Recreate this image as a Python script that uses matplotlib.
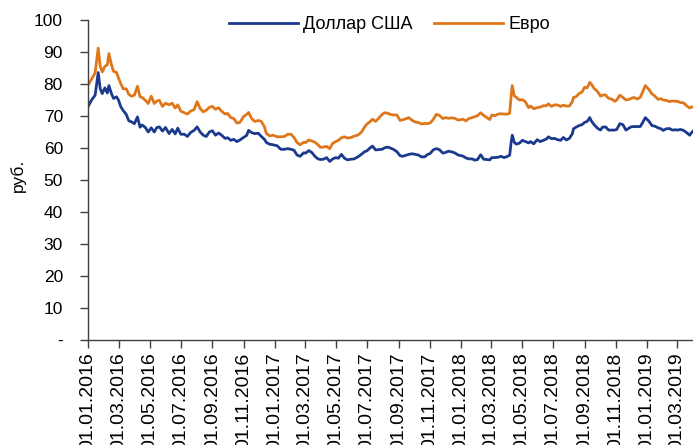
import matplotlib
matplotlib.use("Agg")
import matplotlib.pyplot as plt
import pandas as pd

dates = [
 "2016-01-01","2016-01-08","2016-01-15","2016-01-21","2016-01-25","2016-01-29","2016-02-03","2016-02-08",
 "2016-02-11","2016-02-16","2016-02-20","2016-02-26","2016-03-01","2016-03-05","2016-03-10","2016-03-16",
 "2016-03-21","2016-03-26","2016-04-01","2016-04-07","2016-04-12","2016-04-16","2016-04-22","2016-04-28",
 "2016-05-04","2016-05-10","2016-05-15","2016-05-20","2016-05-26","2016-06-01","2016-06-08","2016-06-14",
 "2016-06-20","2016-06-25","2016-07-01","2016-07-08","2016-07-14","2016-07-20","2016-07-27","2016-08-02",
 "2016-08-08","2016-08-14","2016-08-20","2016-08-26","2016-09-01","2016-09-07","2016-09-13","2016-09-19",
 "2016-09-26","2016-10-01","2016-10-07","2016-10-13","2016-10-19","2016-10-25","2016-11-01","2016-11-07",
 "2016-11-11","2016-11-17","2016-11-23","2016-11-30","2016-12-06","2016-12-12","2016-12-16","2016-12-22",
 "2016-12-29",
 "2017-01-06","2017-01-13","2017-01-20","2017-01-27","2017-02-02","2017-02-08","2017-02-14","2017-02-20",
 "2017-02-27","2017-03-03","2017-03-09","2017-03-15","2017-03-21","2017-03-27","2017-04-01","2017-04-07",
 "2017-04-13","2017-04-19","2017-04-25","2017-05-01","2017-05-06","2017-05-12","2017-05-18","2017-05-24",
 "2017-05-31","2017-06-06","2017-06-14","2017-06-20","2017-06-27","2017-07-01","2017-07-07","2017-07-12",
 "2017-07-18","2017-07-24","2017-07-31","2017-08-04","2017-08-10","2017-08-16","2017-08-23","2017-08-29",
 "2017-09-04","2017-09-09","2017-09-15","2017-09-21","2017-09-28","2017-10-04","2017-10-10","2017-10-16",
 "2017-10-23","2017-10-27","2017-11-02","2017-11-08","2017-11-14","2017-11-20","2017-11-27","2017-12-02",
 "2017-12-08","2017-12-14","2017-12-20","2017-12-27",
 "2018-01-05","2018-01-11","2018-01-17","2018-01-23","2018-01-29","2018-02-03","2018-02-09","2018-02-15",
 "2018-02-21","2018-02-27","2018-03-03","2018-03-09","2018-03-15","2018-03-21","2018-03-27","2018-04-03",
 "2018-04-07","2018-04-10","2018-04-12","2018-04-16","2018-04-20","2018-04-26","2018-05-02","2018-05-08",
 "2018-05-14","2018-05-18","2018-05-24","2018-05-31","2018-06-06","2018-06-12","2018-06-18","2018-06-22",
 "2018-06-28","2018-07-04","2018-07-10","2018-07-16","2018-07-21","2018-07-27","2018-08-02","2018-08-08",
 "2018-08-10","2018-08-15","2018-08-21","2018-08-27","2018-09-01","2018-09-06","2018-09-11","2018-09-14",
 "2018-09-20","2018-09-26","2018-10-02","2018-10-06","2018-10-12","2018-10-18","2018-10-24","2018-10-30",
 "2018-11-03","2018-11-09","2018-11-15","2018-11-21","2018-11-27","2018-12-01","2018-12-07","2018-12-13",
 "2018-12-19","2018-12-24","2018-12-29",
 "2019-01-05","2019-01-11","2019-01-17","2019-01-23","2019-01-29","2019-02-02","2019-02-08","2019-02-14",
 "2019-02-20","2019-02-26","2019-03-02","2019-03-08","2019-03-14","2019-03-20","2019-03-26","2019-03-29",
 "2019-04-01",
]

usd = [
 72.9,75.0,76.5,83.6,78.5,77.0,78.8,77.2,
 79.5,77.0,75.5,76.0,74.9,73.0,71.7,70.5,
 68.5,68.2,67.6,69.7,66.5,67.2,66.5,65.0,
 66.3,65.0,66.4,66.6,65.3,66.4,64.5,65.8,
 64.4,66.2,64.3,64.3,63.6,64.8,65.5,66.6,
 65.0,64.0,63.6,65.0,65.4,64.0,64.7,64.0,
 63.0,63.2,62.4,62.7,62.0,62.5,63.3,63.9,
 65.5,64.8,64.5,64.6,63.6,62.7,61.7,61.2,
 61.0,
 60.7,59.6,59.6,59.8,59.6,59.3,57.8,57.4,
 58.5,58.4,59.2,58.6,57.4,56.6,56.4,56.5,
 57.0,55.8,56.6,57.0,56.8,58.0,56.8,56.3,
 56.5,56.6,57.3,58.0,58.9,59.1,60.0,60.6,
 59.4,59.5,59.6,60.0,60.3,60.0,59.5,58.8,
 57.6,57.4,57.7,58.0,58.2,58.0,57.8,57.2,
 57.3,57.9,58.3,59.4,59.8,59.5,58.4,58.6,
 59.0,58.8,58.5,57.8,
 57.5,56.9,56.6,56.6,56.2,56.4,57.9,56.5,
 56.4,56.3,57.0,57.0,57.1,57.4,57.0,57.4,
 57.8,62.0,64.0,61.8,61.2,61.5,62.4,62.0,
 61.6,62.0,61.3,62.6,62.0,62.4,62.8,63.5,
 62.9,63.0,62.6,62.4,63.3,62.5,63.0,64.5,
 66.0,66.5,67.0,67.3,68.0,68.3,69.5,68.5,
 67.2,66.2,65.6,66.5,66.6,65.6,65.6,65.6,
 65.8,67.6,67.3,65.6,66.2,66.6,66.7,66.7,
 66.7,68.0,69.5,
 68.4,67.0,66.8,66.3,66.0,65.5,66.0,66.1,
 65.6,65.7,65.6,65.8,65.5,64.8,64.0,64.7,
 65.2,
]

eur = [
 79.7,81.5,83.5,91.2,85.5,83.8,85.5,86.0,
 89.5,86.0,84.0,83.6,81.8,80.2,78.5,78.5,
 76.8,76.2,76.5,79.3,76.0,75.8,75.0,73.9,
 76.2,73.9,74.7,74.9,73.0,74.0,73.5,74.0,
 72.5,73.5,71.5,71.0,70.6,71.5,72.0,74.5,
 72.3,71.3,71.8,72.7,73.0,72.1,72.6,71.5,
 70.6,70.8,69.5,69.2,67.8,68.0,69.8,70.5,
 71.1,69.2,68.3,68.6,68.3,66.6,64.5,63.8,
 64.0,
 63.5,63.5,63.6,64.3,64.3,63.3,61.7,61.0,
 61.8,61.7,62.5,62.2,61.8,61.0,60.2,60.3,
 60.5,59.8,61.5,62.0,62.4,63.2,63.5,63.1,
 63.3,63.7,64.1,64.9,66.7,67.5,68.2,69.0,
 68.3,69.3,70.5,71.0,70.9,70.5,70.3,70.3,
 68.6,68.8,69.1,69.5,68.6,68.1,68.0,67.5,
 67.7,67.6,67.8,68.9,70.5,70.2,69.2,69.5,
 69.3,69.4,69.3,68.7,
 69.0,68.5,69.2,69.5,69.8,70.1,71.0,70.2,
 69.5,68.9,70.3,70.1,70.6,70.7,70.6,70.6,
 70.9,76.5,79.5,76.3,75.8,75.0,75.1,74.4,
 72.6,73.1,72.3,72.6,72.8,73.2,73.2,73.8,
 73.0,73.5,73.4,73.0,73.4,73.1,73.1,74.5,
 75.8,76.0,77.0,77.5,79.0,78.8,80.5,80.0,
 78.5,77.7,76.2,76.5,76.6,75.5,75.3,74.6,
 75.0,76.5,75.8,75.0,75.2,75.5,75.8,75.3,
 75.8,77.6,79.5,
 78.3,76.9,76.2,75.2,75.4,75.0,74.9,74.5,
 74.7,74.6,74.6,74.2,74.1,73.2,72.5,72.8,
 72.8,
]

series_names = ["Доллар США", "Евро"]
y_ticks = [0, 10, 20, 30, 40, 50, 60, 70, 80, 90, 100]
y_tick_labels = ["-", "10", "20", "30", "40", "50", "60", "70", "80", "90", "100"]
y_label = "руб."

plt.rcParams['font.family'] = ['Liberation Sans', 'DejaVu Sans']

x = pd.to_datetime(dates)
fig = plt.figure(figsize=(6.93, 4.45), dpi=100)
ax = fig.add_axes([88/693, 105/445, 605/693, 320/445])

blue = '#1b3a8e'
orange = '#e0761b'
ax.plot(x, usd, color=blue, lw=2.0, label=series_names[0])
ax.plot(x, eur, color=orange, lw=2.0, label=series_names[1])

ax.set_ylim(0, 100)
ax.set_xlim(pd.Timestamp("2016-01-01"), pd.Timestamp("2019-04-01 12:00"))
ax.set_yticks(y_ticks)
ax.set_yticklabels(y_tick_labels, fontsize=12.5)
xt = pd.date_range("2016-01-01", "2019-03-01", freq="2MS")
ax.set_xticks(xt)
ax.set_xticklabels([d.strftime("%d.%m.%Y") for d in xt], rotation=90, fontsize=14)
ax.set_ylabel(y_label, fontsize=12.5)
ax.yaxis.set_label_coords(-0.103, 0.516)

axc = '#404040'
for s in ['top', 'right']:
    ax.spines[s].set_visible(False)
for s in ['left', 'bottom']:
    ax.spines[s].set_color(axc)
    ax.spines[s].set_linewidth(1.0)
ax.tick_params(axis='both', colors=axc, labelcolor='black', length=6, width=1.0, direction='out')
ax.tick_params(axis='x', pad=3)
ax.tick_params(axis='y', pad=12)

leg = fig.legend(loc='upper center', bbox_to_anchor=(0.562, 1.0), ncol=2, frameon=False,
                 fontsize=13, handlelength=3.8, columnspacing=1.2, handletextpad=0.3)

fig.savefig("out.png", dpi=100)
